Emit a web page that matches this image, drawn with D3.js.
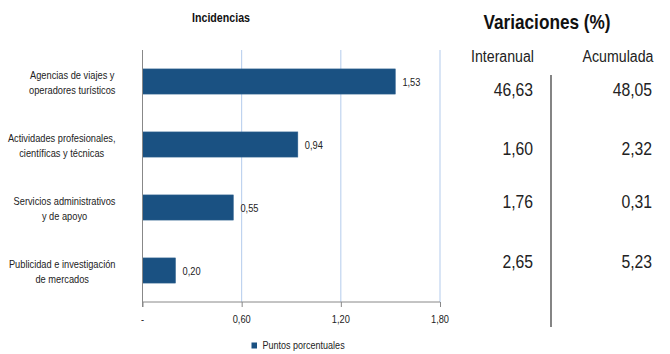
<!DOCTYPE html>
<html><head><meta charset="utf-8">
<script src="https://cdn.jsdelivr.net/npm/d3@7"></script>
<style>
body{margin:0;background:#fff;}
svg{display:block;font-family:"Liberation Sans",Arial,sans-serif;}
</style></head><body>
<svg id="c" width="670" height="354"></svg>
<script>
const categories = [
  ["Agencias de viajes y","operadores turísticos"],
  ["Actividades profesionales,","científicas y técnicas"],
  ["Servicios administrativos","y de apoyo"],
  ["Publicidad e investigación","de mercados"]
];
const incidencias = [1.53, 0.94, 0.55, 0.20];
const interanual = [46.63, 1.60, 1.76, 2.65];
const acumulada = [48.05, 2.32, 0.31, 5.23];
const xTicks = [0, 0.6, 1.2, 1.8];
const xTickLabels = ["-", "0,60", "1,20", "1,80"];

const SX = 0.82; // narrow font emulation
const fmt = v => v.toFixed(2).replace(".", ",");
const svg = d3.select("#c");

function ntext(parent, x, y, str, size, opts = {}) {
  const g = parent.append("g").attr("transform", `translate(${x},${y}) scale(${opts.sx || SX},1)`);
  return g.append("text").attr("x", 0).attr("y", 0)
    .attr("text-anchor", opts.anchor || "start")
    .attr("font-size", size)
    .attr("font-weight", opts.bold ? "bold" : "normal")
    .attr("fill", opts.fill || "#222")
    .text(str);
}

const x = d3.scaleLinear().domain([0, 1.8]).range([142.5, 440]);
const y = d3.scaleBand().domain(d3.range(categories.length)).range([50, 302]).paddingInner(0.6).paddingOuter(0.3);

// gridlines
svg.append("g").selectAll("line").data(xTicks.slice(1)).join("line")
  .attr("x1", d => x(d)).attr("x2", d => x(d)).attr("y1", 50).attr("y2", 302)
  .attr("stroke", "#b3cbec").attr("stroke-width", 1);

// bars
svg.append("g").selectAll("rect").data(incidencias).join("rect")
  .attr("x", x(0)).attr("y", (d, i) => y(i))
  .attr("width", d => x(d) - x(0)).attr("height", y.bandwidth())
  .attr("fill", "#1a5182").attr("stroke", "#3a6a96").attr("stroke-width", 0.5);

// value labels
const vl = svg.append("g");
incidencias.forEach((d, i) => ntext(vl, x(d) + 7, y(i) + y.bandwidth() / 2 + 4, fmt(d), 11.3));

// left axis line
svg.append("line").attr("x1", x(0)).attr("x2", x(0)).attr("y1", 50).attr("y2", 307)
  .attr("stroke", "#888").attr("stroke-width", 1);

// bottom axis
const xAxis = d3.axisBottom(x).tickValues(xTicks).tickSize(5).tickFormat("");
const gx = svg.append("g").attr("transform", "translate(0,302)").call(xAxis);
gx.select(".domain").attr("stroke", "#888").attr("d", `M${x(0)},0H${x(1.8)}`);
gx.selectAll(".tick line").attr("stroke", "#888");
const tl = svg.append("g");
xTicks.forEach((t, i) => ntext(tl, x(t), 323, xTickLabels[i], 11.3, {anchor: "middle"}));

// category labels: lines centred among themselves, block right-aligned
const cl = svg.append("g");
const LABEL_RIGHT = 115.5;
categories.forEach((d, i) => {
  const cy = y(i) + y.bandwidth() / 2;
  const nodes = d.map((line, j) => ntext(cl, 0, cy - 2.5 + j * 14.5, line, 11.3, {anchor: "middle"}));
  const maxW = d3.max(nodes, n => n.node().getComputedTextLength()) * SX;
  const cx = LABEL_RIGHT - maxW / 2;
  nodes.forEach((n, j) => d3.select(n.node().parentNode)
    .attr("transform", `translate(${cx},${cy - 2.5 + j * 14.5}) scale(${SX},1)`)
    .select("text").attr("y", 0));
  nodes.forEach(n => n.attr("y", 0));
});
// fix: text y stored in group transform
cl.selectAll("text").attr("y", 0);

// title
ntext(svg, 221, 22, "Incidencias", 13, {anchor: "middle", bold: true, fill: "#111"});

// legend
svg.append("rect").attr("x", 251.5).attr("y", 342.5).attr("width", 5.5).attr("height", 6).attr("fill", "#1a5182");
ntext(svg, 262.5, 349, "Puntos porcentuales", 11);

// right table
ntext(svg, 547, 29, "Variaciones (%)", 21, {anchor: "middle", bold: true, fill: "#111"});
ntext(svg, 502.5, 62, "Interanual", 17.3, {anchor: "middle"});
ntext(svg, 618, 62, "Acumulada", 17.3, {anchor: "middle"});
svg.append("line").attr("x1", 551).attr("x2", 551).attr("y1", 75).attr("y2", 327)
  .attr("stroke", "#333").attr("stroke-width", 1.2);

const rowY = [96, 155, 208, 268];
const tg = svg.append("g");
interanual.forEach((d, i) => ntext(tg, 533, rowY[i], fmt(d), 17.5, {anchor: "end", sx: 0.9}));
acumulada.forEach((d, i) => ntext(tg, 652, rowY[i], fmt(d), 17.5, {anchor: "end", sx: 0.9}));
</script>
</body></html>
